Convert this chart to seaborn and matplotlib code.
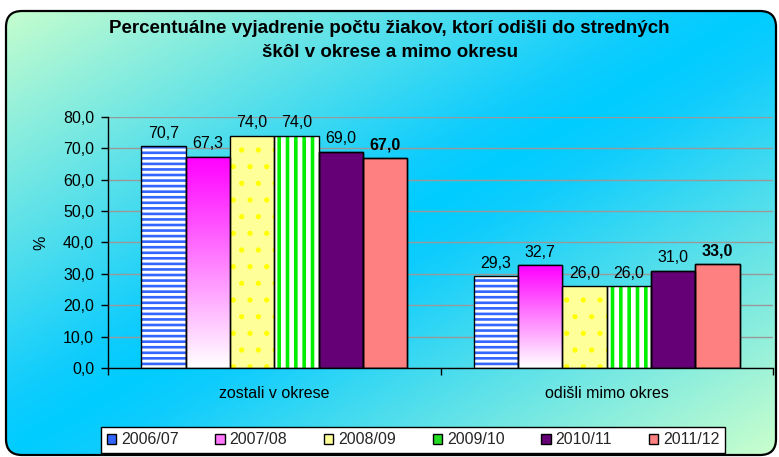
import numpy as np
import pandas as pd
import matplotlib
matplotlib.use("Agg")
import matplotlib.pyplot as plt
import seaborn as sns
from matplotlib.patches import FancyBboxPatch, Rectangle, Patch
from matplotlib.colors import LinearSegmentedColormap, to_rgba
from matplotlib.ticker import FuncFormatter, FixedLocator

# ---- data ----
categories = ["zostali v okrese", "odišli mimo okres"]
years = ["2006/07", "2007/08", "2008/09", "2009/10", "2010/11", "2011/12"]
v_2006_07 = [70.7, 29.3]
v_2007_08 = [67.3, 32.7]
v_2008_09 = [74.0, 26.0]
v_2009_10 = [74.0, 26.0]
v_2010_11 = [69.0, 31.0]
v_2011_12 = [67.0, 33.0]
series = [v_2006_07, v_2007_08, v_2008_09, v_2009_10, v_2010_11, v_2011_12]
title = "Percentuálne vyjadrenie počtu žiakov, ktorí odišli do stredných\nškôl v okrese a mimo okresu"

df = pd.DataFrame({
    "category": [c for s in series for c in categories],
    "year": [y for y, s in zip(years, series) for _ in s],
    "value": [v for s in series for v in s],
})

sns.set_theme(style="white")
plt.rcParams["font.family"] = ["Liberation Sans", "DejaVu Sans"]
plt.rcParams["hatch.linewidth"] = 2.0

W, H = 779, 457
fig = plt.figure(figsize=(W / 100, H / 100), dpi=100)
fig.patch.set_facecolor("white")

# ---- background with diagonal gradient inside rounded frame ----
ax_bg = fig.add_axes([0, 0, 1, 1], zorder=-5)
ax_bg.set_xlim(0, W)
ax_bg.set_ylim(0, H)
ax_bg.set_axis_off()
gx = np.linspace(0, 1, 400)
gy = np.linspace(0, 1, 300)
GX, GY = np.meshgrid(gx, gy)
T = np.abs(GX - GY)
bg_cmap = LinearSegmentedColormap.from_list("bg", [(0, "#00ccff"), (0.12, "#10cdfd"), (1, "#ccffcc")])
im_bg = ax_bg.imshow(T, cmap=bg_cmap, vmin=0, vmax=1, extent=[0, W, 0, H], origin="lower",
                     aspect="auto", zorder=0)
frame = FancyBboxPatch((6, 2), 770, 444, boxstyle="round,pad=0,rounding_size=16",
                       facecolor="none", edgecolor="black", linewidth=1.6, zorder=2)
ax_bg.add_patch(frame)
im_bg.set_clip_path(frame)

# ---- main axes ----
ax = fig.add_axes([108 / W, 89 / H, 665 / W, 251 / H])
ax.set_facecolor("none")

base_colors = ["#ffffff", "#ff00ff", "#ffff99", "#ffffff", "#660077", "#ff8080"]
sns.barplot(data=df, x="category", y="value", hue="year", hue_order=years, order=categories,
            palette=base_colors, saturation=1, edgecolor="black", linewidth=1.0,
            legend=False, ax=ax, width=0.8)

hatch_specs = {
    0: ("#3366ff", "---", 1.9),
    2: ("#ffff00", ".", 1.3),
    3: ("#00ee00", "||", 2.6),
}

for i, cont in enumerate(ax.containers):
    for p in cont.patches:
        x0, y0 = p.get_x(), p.get_y()
        w, h = p.get_width(), p.get_height()
        if i in hatch_specs:
            col, hatch, hlw = hatch_specs[i]
            p.set_edgecolor(col)
            p.set_hatch(hatch)
            p.set_linewidth(0)
            if hasattr(p, "set_hatch_linewidth"):
                p.set_hatch_linewidth(hlw)
        if i == 1:
            p.set_facecolor("none")
            grad = np.zeros((100, 1, 4))
            c1 = np.array(to_rgba("#ff00ff"))
            c2 = np.array(to_rgba("#ffffff"))
            for k in range(100):
                t = k / 99
                grad[k, 0, :] = c1 * (1 - t) + c2 * t
            gim = ax.imshow(grad, extent=[x0, x0 + w, y0, y0 + h], origin="upper",
                            aspect="auto", zorder=1.5, interpolation="bilinear")
            gim.set_clip_path(p)
        ax.add_patch(Rectangle((x0, y0), w, h, fill=False, edgecolor="black",
                               linewidth=1.0, zorder=3))

ax.set_xlim(-0.5, 1.5)
ax.set_ylim(0, 80)
ax.set_yticks(np.arange(0, 81, 10))
ax.yaxis.set_major_formatter(FuncFormatter(lambda v, pos: f"{v:.1f}".replace(".", ",")))
ax.yaxis.grid(True, color="#999999", linewidth=1.0)
ax.set_axisbelow(True)
for s in ["top", "right"]:
    ax.spines[s].set_visible(False)
for s in ["left", "bottom"]:
    ax.spines[s].set_color("black")
    ax.spines[s].set_linewidth(1.0)
FS = 11.5
ax.tick_params(axis="y", direction="out", length=5, width=1, color="black", pad=5,
               labelsize=FS, left=True, labelcolor="black")
ax.tick_params(axis="x", which="major", length=0, pad=13, labelsize=FS, labelcolor="black")
ax.xaxis.set_minor_locator(FixedLocator([-0.5, 0.5, 1.5]))
ax.tick_params(axis="x", which="minor", direction="out", length=5, width=1, color="black", bottom=True)
ax.set_xlabel("")
ax.set_ylabel("%", fontsize=FS, color="black")
ax.yaxis.set_label_coords(-0.09, 0.5)

# data labels
for i, cont in enumerate(ax.containers):
    vals = series[i]
    ax.bar_label(cont, labels=[f"{v:.1f}".replace(".", ",") for v in vals], padding=4,
                 fontsize=FS, color="black", fontweight="bold" if i == 5 else "normal")

# title
fig.text(0.5, 1 - 40.5 / H, title, ha="center", va="center", fontsize=13.5,
         fontweight="bold", linespacing=1.6, color="black")

# legend
leg_colors = ["#3366ff", "#ff77ff", "#ffff99", "#22dd22", "#660077", "#ff8080"]
handles = [Patch(facecolor=c, edgecolor="black", linewidth=1.0) for c in leg_colors]
leg = fig.legend(handles, years, ncol=6, loc="center",
                 bbox_to_anchor=(93 / W, 4 / H, 640 / W, 26 / H), mode="expand",
                 frameon=True, fancybox=False, edgecolor="black", facecolor="white",
                 framealpha=1, fontsize=FS, handlelength=0.6, handleheight=0.6,
                 handletextpad=0.3, borderpad=0.35, columnspacing=1.0)
leg.get_frame().set_linewidth(1.0)

fig.savefig("out.png", dpi=100)
